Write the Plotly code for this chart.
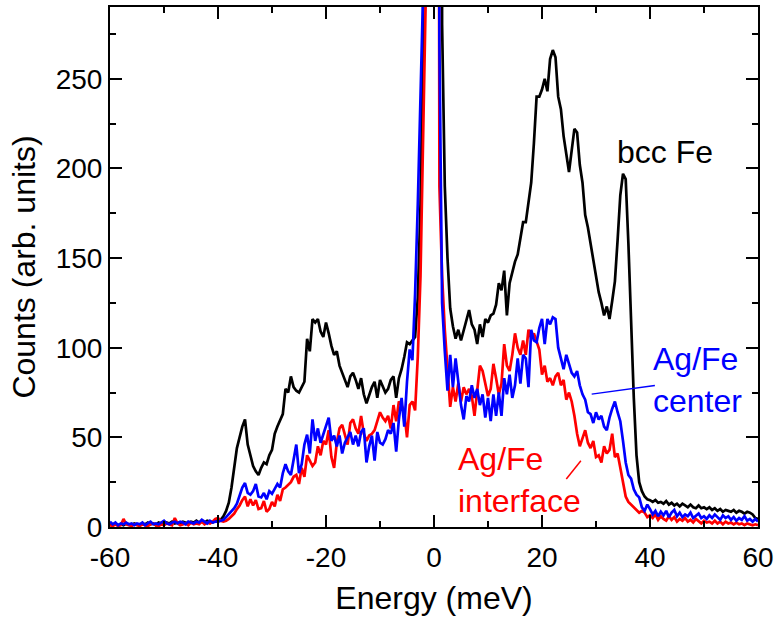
import numpy as np
import plotly.graph_objects as go

# Energy transfer grid (meV), 0.5 meV steps
energy = np.round(np.arange(-60.0, 60.0 + 0.25, 0.5), 1)

# Axis tick positions and labels (plain hyphen-minus)
x_tickvals = [-60, -40, -20, 0, 20, 40, 60]
x_ticktext = ["-60", "-40", "-20", "0", "20", "40", "60"]
y_tickvals = [0, 50, 100, 150, 200, 250]
y_ticktext = ["0", "50", "100", "150", "200", "250"]

# Phonon DOS spectra (counts, arb. units)
bcc_fe = [
    1.5, 1, 2, 1, 1.5, 1, 2, 1.5, 1, 2, 1.5, 1, 2, 1.5, 2.5, 1.5, 2, 1, 2.5, 2,
    1.5, 2.5, 2, 3, 2, 2.5, 2, 3, 2.5, 2, 3, 2.5, 3.5, 2.5, 3, 2.5, 3.5, 3, 2.5, 3.5,
    3, 4, 6, 9, 13.5, 22, 32, 44, 50, 56, 60, 46, 40, 34, 31, 29, 33, 36, 35, 40,
    43, 52, 56, 60, 63, 77, 75, 84, 78, 76, 75, 78, 81, 105, 98, 116, 114, 116, 109, 106,
    114, 108, 101, 96, 98, 90, 86, 82, 78, 84, 86, 82, 77, 83, 74, 69, 74, 78, 81, 72,
    82, 78, 75, 77, 82, 84, 72, 83, 88, 95, 103, 102, 104, 106, 128, 180, 280, 520, 1200, 2200,
    2500, 2000, 900, 280, 190, 150, 122, 112, 105, 110, 104, 110, 115, 121, 113, 110, 102, 113, 106, 116,
    114, 118, 119, 124, 136, 132, 143, 118, 136, 142, 148, 152, 160, 170, 170, 182, 192, 214, 240, 240,
    244, 250, 243, 261, 266, 262, 240, 233, 218, 208, 198, 210, 222, 220, 202, 192, 174, 167, 158, 150,
    140, 131, 125, 118, 123, 116, 126, 137, 160, 185, 197, 194, 158, 109, 72, 40, 25, 20, 17, 15.5,
    15, 14, 15, 13.5, 14, 13, 14.5, 12.5, 13.5, 12, 13, 11.5, 13, 12, 11, 12.5, 11, 10.5, 12, 10.5,
    11, 10, 11, 9.5, 10.5, 9, 10, 8.5, 9.5, 9, 8.5, 9.5, 8, 9, 8.5, 7.5, 8.5, 8, 7, 5,
    4.5,
]

agfe_center = [
    3, 1.5, 2.5, 1, 2, 1.5, 2.5, 1.5, 2, 1, 2, 1.5, 2.5, 1, 2, 3, 1.5, 2, 1.5, 2.5,
    3.5, 2, 1.5, 2.5, 3, 2, 3, 2.5, 1.5, 3, 2.5, 2, 3, 2.5, 4, 3, 2, 3.5, 2.5, 3,
    3, 3.5, 4, 5.5, 7, 8.5, 10.5, 13, 17, 22, 24.5, 19, 18, 20, 24, 17, 16.5, 19, 15.5, 20,
    18.5, 21, 24, 22, 30, 35, 31, 29, 38, 46, 30, 35, 46, 51.5, 41, 60, 48, 55, 47, 52,
    56, 61, 48, 51, 45, 51, 41, 47, 50, 53, 46, 51, 45, 53, 55, 36, 45, 51, 37, 53,
    47, 46, 49, 54, 52, 58, 42, 60, 72, 56, 81, 99, 93, 130, 180, 235, 300, 900, 1800, 2400,
    2500, 1600, 270, 125, 98, 76, 96, 78, 94, 81, 68, 60, 73, 70, 79, 72, 77, 68, 74, 61,
    72, 59, 74, 62, 75, 62, 83, 74, 85, 72, 79, 94, 80, 96, 94, 78, 110, 104, 103, 111,
    116, 102, 116, 113, 117, 116, 100, 94, 88, 96, 91, 86, 84, 87, 79, 74, 71, 64, 63, 58,
    64, 60, 62, 56, 54, 61, 66, 70, 64, 59, 48, 36, 29, 27, 21, 18, 16.5, 11, 9, 12.5,
    10, 7, 9, 6, 8.5, 6.5, 9, 5.5, 8, 9.5, 6, 8, 5.5, 7, 6, 8, 5, 6.5, 7.5, 5,
    6, 4.5, 6.5, 5, 7, 5.5, 4, 6.5, 5, 6, 4, 5.5, 3.5, 5, 4, 6, 3.5, 4.5, 3, 4.5,
    3,
]

agfe_interface = [
    1, 0.5, 1.5, 0.5, 1, 4.5, 1.5, 1, 0.5, 1.5, 1, 0.5, 1.5, 1, 0.5, 1.5, 2, 1, 0.5, 1.5,
    1, 2, 1.5, 1, 5, 2, 1, 1.5, 2, 1, 2.5, 1.5, 2, 1.5, 3, 1.5, 2.5, 2, 3, 4.5,
    5, 3.5, 3, 3.5, 4.5, 6, 7.5, 10, 12, 15, 17, 11.5, 15.5, 12, 15, 10, 10.5, 14.5, 8.5, 10,
    14, 11.5, 18, 14.5, 21, 22, 23.5, 25, 28, 29, 24, 33, 28, 40, 37, 34, 36, 45, 40, 48,
    46, 54, 39, 33, 47, 55, 57, 51, 46, 58, 60, 55, 52, 62, 52, 48, 51, 52, 54, 59,
    64, 61, 59, 62, 55, 68, 59, 70, 68, 64, 50, 68, 70, 65, 95, 140, 215, 300, 900, 2300,
    2500, 1200, 190, 140, 110, 88, 67, 78, 70, 80, 70, 78, 74, 77, 73, 62, 76, 90, 87, 80,
    73, 77, 91, 83, 74, 80, 102, 90, 87, 96, 108, 100, 96, 104, 96, 110, 105, 108, 103, 99,
    85, 90, 81, 83, 79, 84, 86, 79, 82, 71, 75, 70, 62, 52, 45, 50, 54, 47, 44, 48,
    39, 40, 36, 45, 41, 43, 52, 39, 41, 33, 24, 17, 14, 12.5, 10.5, 9, 8, 9, 8, 5.5,
    6.5, 5, 7, 4, 6, 4.5, 3.5, 6, 4, 5.5, 3, 4.5, 3.5, 5, 3, 4, 2.5, 4.5, 3, 2,
    3.5, 2.5, 3, 2, 3.5, 2, 3, 1.5, 3, 2, 2.5, 1.5, 2.5, 1.5, 2, 1, 2, 1.5, 1, 1.5,
    1,
]

assert len(bcc_fe) == len(agfe_center) == len(agfe_interface) == len(energy)

FONT = "Liberation Sans, Arial, sans-serif"

fig = go.Figure()
fig.add_trace(go.Scatter(x=energy, y=bcc_fe, mode="lines", name="bcc Fe",
                         line=dict(color="#000000", width=2.7)))
fig.add_trace(go.Scatter(x=energy, y=agfe_interface, mode="lines", name="Ag/Fe interface",
                         line=dict(color="#FF0000", width=2.7)))
fig.add_trace(go.Scatter(x=energy, y=agfe_center, mode="lines", name="Ag/Fe center",
                         line=dict(color="#0000FF", width=2.7)))

axis_common = dict(
    showline=True, linecolor="black", linewidth=2, mirror="ticks",
    ticks="inside", ticklen=12, tickwidth=2, tickcolor="black",
    showgrid=False, zeroline=False,
    tickfont=dict(family=FONT, size=28, color="black"),
)

fig.update_xaxes(
    range=[-60, 60], tickmode="array", tickvals=x_tickvals, ticktext=x_ticktext,
    ticklabelstandoff=4,
    minor=dict(dtick=10, tick0=-60, ticks="inside", ticklen=6, tickwidth=2, tickcolor="black"),
    title=dict(text="Energy (meV)", font=dict(family=FONT, size=32, color="black"), standoff=15),
    **axis_common,
)
fig.update_yaxes(
    range=[0, 290], tickmode="array", tickvals=y_tickvals, ticktext=y_ticktext,
    minor=dict(dtick=25, tick0=0, ticks="inside", ticklen=6, tickwidth=2, tickcolor="black"),
    title=dict(text="Counts (arb. units)", font=dict(family=FONT, size=32, color="black"), standoff=10),
    **axis_common,
)

# Curve labels
fig.add_annotation(x=33.5, y=209, text="bcc Fe", showarrow=False, xanchor="left", yanchor="middle",
                   font=dict(family=FONT, size=32, color="black"))
fig.add_annotation(x=40.2, y=82, text="Ag/Fe<br>center", showarrow=False, xanchor="left", yanchor="middle",
                   align="left", font=dict(family=FONT, size=32, color="#0000FF"))
fig.add_annotation(x=4.0, y=26, text="Ag/Fe<br>interface", showarrow=False, xanchor="left", yanchor="middle",
                   align="left", font=dict(family=FONT, size=32, color="#FF0000"))

# Leader lines from labels to curves
fig.add_shape(type="line", x0=29.2, y0=74.1, x1=40.9, y1=78.9, line=dict(color="#0000FF", width=1.5))
fig.add_shape(type="line", x0=24.5, y0=26.8, x1=27.2, y1=37, line=dict(color="#FF0000", width=1.5))

fig.update_layout(
    width=779, height=626,
    margin=dict(l=110, r=17, t=5, b=99),
    paper_bgcolor="white", plot_bgcolor="white",
    showlegend=False,
)

fig.write_html("out.html")
